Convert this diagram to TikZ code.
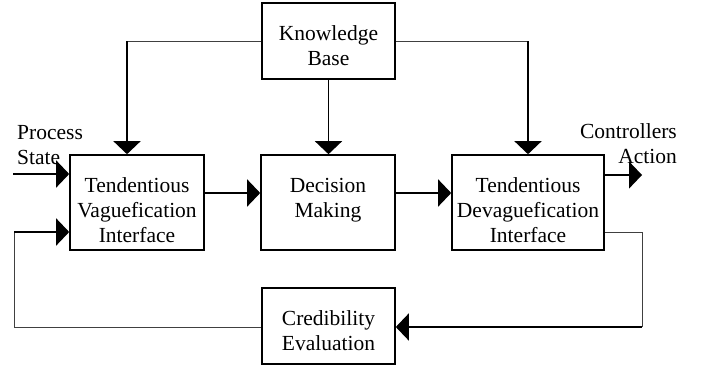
\documentclass[tikz,border=0pt]{standalone}
\usepackage{fontspec}
\setmainfont{Liberation Serif}
\usetikzlibrary{arrows.meta}
\begin{document}
\begin{tikzpicture}[x=1pt,y=-1pt,
  txt/.style={font=\fontsize{21.5}{25}\selectfont},
  block/.style={draw, line width=1.6pt, inner sep=0pt},
  blocktext/.style={txt, align=center, inner sep=0pt},
  flow/.style={line width=1.4pt, -{Triangle[length=13pt,width=27pt]}},
  link/.style={line width=0.9pt, draw=black!75},
  lbl/.style={txt, inner sep=0pt}]
\useasboundingbox (0,0) rectangle (701,372);

% block frames
\node[block, minimum width=133pt, minimum height=76pt] (kb)  at (328.5,41)  {};
\node[block, minimum width=134pt, minimum height=95pt] (tvi) at (137,202.5) {};
\node[block, minimum width=134pt, minimum height=95pt] (dm)  at (328,202.5) {};
\node[block, minimum width=152pt, minimum height=95pt] (tdi) at (528,202.5) {};
\node[block, minimum width=133pt, minimum height=76pt] (ce)  at (328.5,326) {};

% block captions
\node[blocktext] (kb-t)  at ([yshift=-5pt]kb.center)  {Knowledge\\Base};
\node[blocktext] (tvi-t) at ([yshift=-8pt]tvi.center) {Tendentious\\Vaguefication\\Interface};
\node[blocktext] (dm-t)  at ([yshift=2pt]dm.center)   {Decision\\Making};
\node[blocktext] (tdi-t) at ([yshift=-8pt]tdi.center) {Tendentious\\Devaguefication\\Interface};
\node[blocktext] (ce-t)  at ([yshift=-4.5pt]ce.center) {Credibility\\Evaluation};

% outer labels
\node[lbl, align=left, anchor=north west]  (ps) at (17,125)  {Process\\State};
\node[lbl, align=right, anchor=north east] (ca) at (677,123) {Controllers\\Action};

% knowledge base to the three upper blocks
\coordinate (kbL) at (127,41);
\coordinate (kbR) at (tdi.north |- kb.east);
\draw[link] (kb.west) -- (kbL);
\draw[flow] (kbL) -- (kbL |- tvi.north);
\draw[link] (kb.east) -- (kbR);
\draw[flow] (kbR) -- (tdi.north);
\draw[flow] (kb.south) -- (kb.south |- dm.north);

% main chain
\draw[flow] ([yshift=9.5pt]tvi.east) -- ([yshift=9.5pt]dm.west);
\draw[flow] ([yshift=9.5pt]dm.east) -- ([yshift=9.5pt]tdi.west);

% process input and controller output
\coordinate (pin) at (13,174);
\draw[flow] (pin) -- (pin -| tvi.west);
\coordinate (cout) at (642,175);
\draw[flow] (tdi.east |- cout) -- (cout);

% credibility feedback loop
\coordinate (fbR)  at (642,232);
\coordinate (fbRd) at (642,327);
\draw[link] (fbR -| tdi.east) -- (fbR) -- (fbRd);
\draw[flow] (fbRd) -- (fbRd -| ce.east);
\coordinate (fbL)  at (14,327);
\coordinate (fbLu) at (14,232);
\draw[link] (ce.west |- fbL) -- (fbL) -- (fbLu);
\draw[flow] (fbLu) -- (fbLu -| tvi.west);
\end{tikzpicture}
\end{document}
